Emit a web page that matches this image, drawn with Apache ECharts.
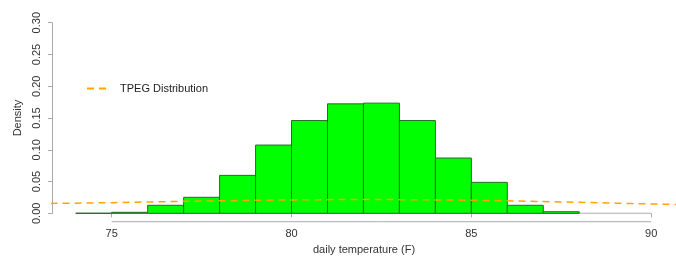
<!DOCTYPE html>
<html>
<head>
<meta charset="utf-8">
<script src="https://cdn.jsdelivr.net/npm/echarts@6/dist/echarts.min.js"></script>
<style>
  html, body { margin: 0; padding: 0; background: #fff; }
  #hist { width: 676px; height: 256px; }
</style>
</head>
<body>
<div id="hist"></div>
<script>
// histogram bins (left edge, width 1 F) and their densities
var binStart = [74, 75, 76, 77, 78, 79, 80, 81, 82, 83, 84, 85, 86, 87];
var binDensity = [0, 0.0016, 0.0126, 0.0252, 0.0597, 0.1074, 0.146, 0.1723, 0.1734, 0.146, 0.087, 0.0487, 0.0126, 0.0025];

// fitted TPEG curve
var curveTemp = [73.3, 74, 75, 76, 77, 78, 79, 80, 81, 82, 83, 84, 85, 86, 87, 88, 89, 90, 90.7];
var curveDensity = [0.0155, 0.016, 0.0168, 0.0178, 0.0188, 0.0197, 0.0205, 0.021, 0.0215, 0.0217,
                    0.0215, 0.0211, 0.0205, 0.0197, 0.0185, 0.0173, 0.016, 0.0147, 0.014];

var xTicks = [75, 80, 85, 90];
var xRange = [73.34, 90.69];
var yTicks = [0, 0.05, 0.10, 0.15, 0.20, 0.25, 0.30];

var font = 'Liberation Sans';
var axisGray = '#aaa';
var xAxisDrop = 8.4; // R draws the x axis a little below y = 0

var chart = echarts.init(document.getElementById('hist'));

var bars = binStart.map(function (s, i) { return [s, s + 1, binDensity[i]]; });
var curve = curveTemp.map(function (t, i) { return [t, curveDensity[i]]; });

chart.setOption({
    animation: false,
    textStyle: { fontFamily: font },
    grid: { left: 52, right: 0, top: 22.7, bottom: 42.7, containLabel: false, outerBoundsMode: 'none' },
    legend: {
        left: 81, top: 78,
        itemWidth: 19, itemHeight: 8, itemGap: 10,
        itemStyle: { opacity: 0 },
        textStyle: { fontFamily: font, fontSize: 11, color: '#222', padding: [0, 0, 0, 9] },
        data: ['TPEG Distribution']
    },
    xAxis: {
        type: 'value', min: xRange[0], max: xRange[1],
        offset: xAxisDrop,
        splitLine: { show: false },
        axisLine: { show: false },
        axisTick: { show: true, length: 4, customValues: xTicks, lineStyle: { color: axisGray } },
        axisLabel: { color: '#333', fontSize: 11, margin: 7, customValues: xTicks },
        name: 'daily temperature (F)',
        nameLocation: 'middle', nameGap: 23,
        nameTextStyle: { color: '#333', fontSize: 11 }
    },
    yAxis: {
        type: 'value', min: 0, max: 0.3, interval: 0.05,
        splitLine: { show: false },
        axisLine: { show: true, lineStyle: { color: axisGray, width: 1 } },
        axisTick: { show: true, length: 4, lineStyle: { color: axisGray } },
        axisLabel: {
            color: '#333', fontSize: 11, rotate: 90, margin: 10,
            formatter: function (v) { return v.toFixed(2); }
        },
        name: 'Density', nameLocation: 'middle', nameRotate: 90, nameGap: 27,
        nameTextStyle: { color: '#333', fontSize: 11 }
    },
    series: [
        {
            // x axis line, only between the first and last tick
            name: 'xaxisline', type: 'custom', silent: true, z: 1,
            renderItem: function (params, api) {
                var a = api.coord([api.value(0), 0]);
                var b = api.coord([api.value(1), 0]);
                return {
                    type: 'line',
                    shape: { x1: a[0], y1: a[1] + xAxisDrop, x2: b[0], y2: b[1] + xAxisDrop },
                    style: { stroke: axisGray, lineWidth: 1 }
                };
            },
            encode: { x: [0, 1] },
            data: [[xTicks[0], xTicks[xTicks.length - 1]]]
        },
        {
            name: 'baseline', type: 'line', silent: true,
            symbol: 'none', data: [[74, 0], [90, 0]],
            lineStyle: { color: '#999', width: 1 }, z: 1
        },
        {
            name: 'hist', type: 'custom', z: 2,
            renderItem: function (params, api) {
                var p0 = api.coord([api.value(0), api.value(2)]);
                var p1 = api.coord([api.value(1), 0]);
                return {
                    type: 'rect',
                    shape: { x: p0[0], y: p0[1], width: p1[0] - p0[0], height: p1[1] - p0[1] },
                    style: { fill: '#00ff00', stroke: '#2a6a2a', lineWidth: 1 }
                };
            },
            encode: { x: [0, 1], y: 2 },
            data: bars
        },
        {
            name: 'TPEG Distribution', type: 'line', clip: false,
            symbol: 'none', data: curve, z: 3,
            lineStyle: { color: '#FFA500', width: 1.5, type: [7, 5] },
            itemStyle: { color: '#FFA500' }
        }
    ]
});
</script>
</body>
</html>
